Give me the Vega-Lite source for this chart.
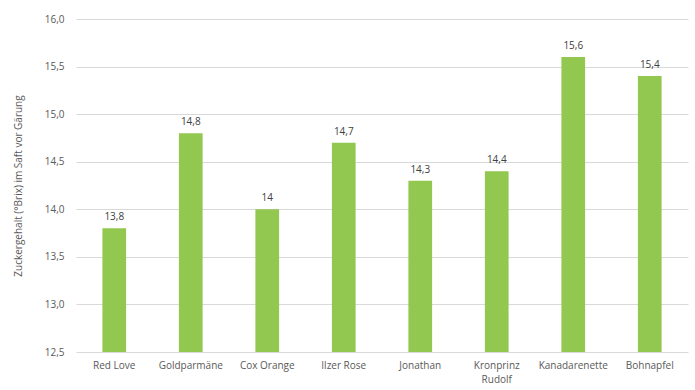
{
  "$schema": "https://vega.github.io/schema/vega-lite/v6.json",
  "width": 612,
  "height": 333,
  "autosize": {"type": "none"},
  "padding": {"left": 76, "top": 19, "right": 7, "bottom": 38},
  "background": "white",
  "config": {
    "locale": {"number": {"decimal": ",", "thousands": ".", "grouping": [3], "currency": ["", " €"]}},
    "view": {"stroke": null},
    "font": "Open Sans",
    "axis": {"labelFont": "Open Sans", "titleFont": "Open Sans", "labelColor": "#595959", "titleColor": "#595959", "labelFontSize": 10, "titleFontSize": 10, "titleFontWeight": "normal"}
  },
  "data": {
    "values": [
      {"sorte": "Red Love", "brix": 13.8},
      {"sorte": "Goldparmäne", "brix": 14.8},
      {"sorte": "Cox Orange", "brix": 14.0},
      {"sorte": "Ilzer Rose", "brix": 14.7},
      {"sorte": "Jonathan", "brix": 14.3},
      {"sorte": "Kronprinz Rudolf", "brix": 14.4},
      {"sorte": "Kanadarenette", "brix": 15.6},
      {"sorte": "Bohnapfel", "brix": 15.4}
    ]
  },
  "encoding": {
    "x": {
      "field": "sorte", "type": "nominal", "sort": null,
      "scale": {"paddingInner": 0.69, "paddingOuter": 0.345},
      "axis": {"title": null, "labelAngle": 0, "domain": false, "ticks": false, "labelPadding": 8,
        "labelExpr": "datum.value == 'Kronprinz Rudolf' ? ['Kronprinz', 'Rudolf'] : datum.value", "labelLineHeight": 14}
    },
    "y": {
      "field": "brix", "type": "quantitative",
      "scale": {"domain": [12.5, 16.0], "zero": false, "nice": false},
      "axis": {"title": "Zuckergehalt (°Brix) im Saft vor Gärung", "values": [12.5, 13, 13.5, 14, 14.5, 15, 15.5, 16],
        "format": ".1f", "domain": false, "ticks": false, "labelPadding": 12, "titlePadding": 21,
        "gridColor": "#d9d9d9", "gridWidth": 1}
    }
  },
  "layer": [
    {"mark": {"type": "bar", "color": "#92C850", "clip": true}},
    {"mark": {"type": "text", "baseline": "bottom", "dy": -6, "color": "#404040", "fontSize": 10, "font": "Open Sans"},
     "encoding": {"text": {"field": "brix", "type": "quantitative", "format": "~g"}}}
  ]
}
